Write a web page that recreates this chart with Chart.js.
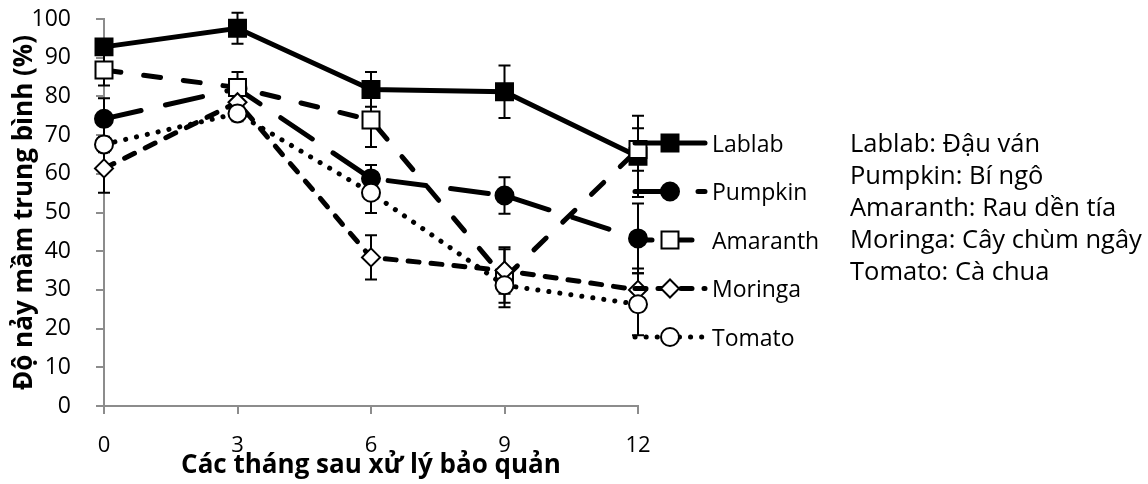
<!DOCTYPE html>
<html>
<head>
<meta charset="utf-8">
<script src="https://cdn.jsdelivr.net/npm/chart.js@4"></script>
<style>
  html, body { margin: 0; padding: 0; background: #fff; }
</style>
</head>
<body>
<canvas id="chart" width="1148" height="484"></canvas>
<script>
const months = [0, 3, 6, 9, 12];
const seriesNames = ['Lablab', 'Pumpkin', 'Amaranth', 'Moringa', 'Tomato'];
const localNames = ['Đậu ván', 'Bí ngô', 'Rau dền tía', 'Cây chùm ngây', 'Cà chua'];

const lablab   = [92.8, 97.6, 81.8, 81.2, 64.5];
const pumpkin  = [74.2, 82.0, 58.8, 54.4, 43.3];
const amaranth = [86.8, 82.3, 73.9, 33.0, 66.3];
const moringa  = [61.4, 78.5, 38.4, 35.0, 30.0];
const tomato   = [67.6, 75.6, 55.1, 31.2, 26.3];

const lablabErr   = [1.5, 4.0, 4.5, 6.8, 10.5];
const pumpkinErr  = [5.3, 1.5, 3.5, 4.7, 9.0];
const amaranthErr = [4.0, 4.0, 7.0, 7.5, 5.5];
const moringaErr  = [6.3, 2.0, 5.7, 6.0, 5.5];
const tomatoErr   = [2.0, 2.0, 5.2, 4.5, 8.0];

const yMin = 0, yMax = 100, yStep = 10;
const xMin = 0, xMax = 12, xStep = 3;

const FONT = "'Open Sans', sans-serif";
const AXIS_GREY = '#8c8c8c';

function points(values) {
  return months.map((m, i) => ({ x: m, y: values[i] }));
}

// marker + line style per series, same order as seriesNames
const styles = [
  { shape: 'rect',    fill: '#000', radius: 12, dash: [] },
  { shape: 'circle',  fill: '#000', radius: 9,  dash: [38, 25] },
  { shape: 'rect',    fill: '#fff', radius: 12, dash: [17, 23] },
  { shape: 'rectRot', fill: '#fff', radius: 9,  dash: [11, 12] },
  { shape: 'circle',  fill: '#fff', radius: 9,  dash: [0.1, 11] },
];
const values = [lablab, pumpkin, amaranth, moringa, tomato];
const errors = [lablabErr, pumpkinErr, amaranthErr, moringaErr, tomatoErr];

const datasets = seriesNames.map((name, i) => ({
  label: name,
  data: points(values[i]),
  errors: errors[i],
  order: seriesNames.length - i,
  borderColor: '#000',
  borderWidth: 5,
  borderDash: styles[i].dash,
  borderCapStyle: 'round',
  pointStyle: styles[i].shape,
  pointRadius: styles[i].radius,
  pointBackgroundColor: styles[i].fill,
  pointBorderColor: '#000',
  pointBorderWidth: 2,
  clip: false,
  tension: 0,
}));

const errorBars = {
  id: 'errorBars',
  beforeDatasetsDraw(chart) {
    const { ctx, scales: { x, y } } = chart;
    ctx.save();
    ctx.strokeStyle = '#000';
    ctx.lineWidth = 2;
    chart.data.datasets.forEach(ds => {
      ds.data.forEach((p, j) => {
        const e = ds.errors[j];
        if (!e) return;
        const px = x.getPixelForValue(p.x);
        const top = y.getPixelForValue(p.y + e);
        const bot = y.getPixelForValue(p.y - e);
        ctx.beginPath();
        ctx.moveTo(px, top); ctx.lineTo(px, bot);
        ctx.moveTo(px - 6, top); ctx.lineTo(px + 6, top);
        ctx.moveTo(px - 6, bot); ctx.lineTo(px + 6, bot);
        ctx.stroke();
      });
    });
    ctx.restore();
  }
};

function drawMarker(ctx, st, x, y) {
  ctx.beginPath();
  if (st.shape === 'circle') {
    ctx.arc(x, y, st.radius, 0, Math.PI * 2);
  } else if (st.shape === 'rect') {
    const h = st.radius * Math.SQRT1_2;
    ctx.rect(x - h, y - h, 2 * h, 2 * h);
  } else {
    const r = st.radius;
    ctx.moveTo(x - r, y); ctx.lineTo(x, y - r);
    ctx.lineTo(x + r, y); ctx.lineTo(x, y + r);
    ctx.closePath();
  }
  ctx.fillStyle = st.fill;
  ctx.fill();
  ctx.lineWidth = 2;
  ctx.setLineDash([]);
  ctx.strokeStyle = '#000';
  ctx.stroke();
}

// Excel style legend (line + marker) and the Vietnamese name list
const sideLegend = {
  id: 'sideLegend',
  afterDraw(chart) {
    const ctx = chart.ctx;
    ctx.save();
    ctx.textAlign = 'left';
    ctx.textBaseline = 'alphabetic';
    seriesNames.forEach((name, i) => {
      const cy = 143 + i * 48.5;
      ctx.beginPath();
      ctx.setLineDash(styles[i].dash);
      ctx.lineCap = 'round';
      ctx.lineWidth = 5;
      ctx.strokeStyle = '#000';
      ctx.moveTo(635, cy);
      ctx.lineTo(705, cy);
      ctx.stroke();
      drawMarker(ctx, styles[i], 670, cy);
      ctx.fillStyle = '#000';
      ctx.font = '23px ' + FONT;
      ctx.fillText(name, 712, cy + 8.5);
    });
    ctx.font = '25.5px ' + FONT;
    seriesNames.forEach((name, i) => {
      ctx.fillText(name + ': ' + localNames[i], 850, 152 + i * 32);
    });
    ctx.restore();
  }
};

new Chart(document.getElementById('chart'), {
  type: 'line',
  data: { datasets },
  options: {
    responsive: false,
    animation: false,
    layout: { padding: { left: 0, right: 510, top: 19, bottom: 0 } },
    plugins: {
      legend: { display: false },
      tooltip: { enabled: false },
    },
    scales: {
      x: {
        type: 'linear',
        min: xMin,
        max: xMax,
        afterFit(scale) { scale.height = 78; },
        ticks: { stepSize: xStep, color: '#000', padding: 19, font: { family: FONT, size: 22 } },
        grid: { drawOnChartArea: false, drawTicks: true, tickLength: 8, color: AXIS_GREY, lineWidth: 2 },
        border: { color: AXIS_GREY, width: 2 },
        title: {
          display: true,
          text: 'Các tháng sau xử lý bảo quản',
          color: '#000',
          font: { family: FONT, size: 26, weight: 'bold' },
          padding: { top: 0, bottom: 3 },
        },
      },
      y: {
        min: yMin,
        max: yMax,
        afterFit(scale) {
          scale.width = 104;
          scale.paddingTop = 0;
          scale.paddingBottom = 0;
        },
        ticks: { stepSize: yStep, color: '#000', padding: 25, font: { family: FONT, size: 23 } },
        grid: { drawOnChartArea: false, drawTicks: true, tickLength: 8, color: AXIS_GREY, lineWidth: 2 },
        border: { color: AXIS_GREY, width: 2 },
        title: {
          display: true,
          text: 'Độ nảy mầm trung bình (%)',
          color: '#000',
          font: { family: FONT, size: 26, weight: 'bold' },
          padding: { top: 9, bottom: 0 },
        },
      },
    },
  },
  plugins: [errorBars, sideLegend],
});
</script>
</body>
</html>
